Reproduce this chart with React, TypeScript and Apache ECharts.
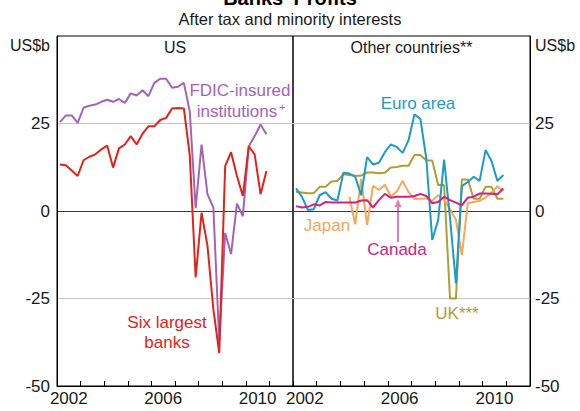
import React, { useEffect, useRef } from "react";
import * as echarts from "echarts";

const years = ["2002", "2003", "2004", "2005", "2006", "2007", "2008", "2009", "2010", "2011"];
const quarterNames = ["Q1", "Q2", "Q3", "Q4"];
const quarters = years.flatMap((y) => quarterNames.map((q) => y + q));
const yTicks = [-50, -25, 0, 25, 50];

const sixLargest = [13.3, 13.1, 11.6, 10.0, 14.5, 15.5, 16.2, 17.6, 18.7, 12.4, 17.9, 19.0, 21.4, 19.0, 22.1, 24.2, 24.2, 26.0, 26.6, 29.3, 29.4, 29.3, 16.0, -19.0, -0.5, -9.9, -28.0, -40.6, 12.8, 16.8, 10.0, 4.3, 18.5, 16.2, 4.8, 11.4];
const fdic = [25.4, 27.3, 27.3, 25.2, 29.5, 30.1, 30.4, 31.2, 31.8, 31.2, 32.0, 30.9, 33.6, 33.0, 34.5, 32.8, 36.6, 37.8, 37.8, 35.2, 35.5, 36.6, 28.5, 0.8, 19.0, 4.8, 1.0, -37.3, -6.3, -12.3, 2.1, -1.5, 18.4, 21.4, 24.7, 21.9];
const euroArea = [6.5, 4.1, 0.3, 0.5, 4.5, 5.4, 3.5, 3.0, 10.9, 10.7, 9.8, 4.5, 15.4, 13.3, 13.8, 16.8, 19.0, 18.3, 16.6, 20.2, 27.6, 26.3, 15.0, -8.3, -2.6, 14.7, -2.0, -20.7, 7.1, 8.3, 9.8, 8.6, 17.4, 14.3, 8.6, 10.3];
const uk = [5.5, 5.3, 5.1, 5.1, 6.9, 6.9, 8.4, 8.6, 10.5, 10.3, 10.1, 10.1, 11.0, 11.0, 10.8, 10.9, 12.4, 12.6, 12.9, 12.9, 16.0, 16.0, 14.4, 14.4, 7.4, 7.4, -25.0, -25.0, 9.0, 9.0, 3.5, 3.5, 6.9, 6.9, 3.5, 3.5];
const japan = [null, null, null, null, null, null, null, null, null, 4.1, -3.8, 9.2, -4.0, 7.2, 6.0, 7.5, 4.2, 5.6, 8.6, 5.4, 3.4, 3.5, 3.6, 2.9, 4.5, 3.3, 0.5, -2.5, -12.6, 2.2, 2.6, 2.9, 3.8, 5.2, 7.1, 5.7];
const canada = [1.4, 1.0, 1.2, 1.9, 1.6, 2.6, 2.4, 2.4, 2.4, 2.4, 2.4, 3.0, 3.1, 1.0, 3.1, 4.9, 3.8, 4.1, 4.1, 4.1, 4.3, 4.9, 4.3, 2.2, 2.6, 4.1, 3.1, 2.4, 1.6, 3.8, 4.1, 5.0, 5.0, 4.9, 4.8, 6.4];

const FONT = "'Liberation Sans', Arial, sans-serif";
const RED = "#E2231A";
const PURPLE = "#A463B8";
const BLUE = "#1A9CC6";
const OLIVE = "#B29D34";
const ORANGE = "#F8A657";
const MAGENTA = "#D4207F";
const PINK = "#E77BB5";

function txt(text: string, x: number, y: number, color: string, size = 17, align = "center", weight = "normal") {
  return {
    type: "text",
    x,
    y,
    silent: true,
    style: { text, fill: color, fontSize: size, fontFamily: FONT, fontWeight: weight, align, verticalAlign: "middle" },
  };
}

export default function App() {
  const ref = useRef<HTMLDivElement>(null);
  useEffect(() => {
    if (!ref.current) return;
    const chart = echarts.init(ref.current, null, { renderer: "svg" });
    const gridTop = 36;
    const gridBottom = 25;
    const makeXAxes = (gi: number) => [
      {
        type: "category",
        gridIndex: gi,
        data: quarters,
        boundaryGap: true,
        position: "bottom",
        axisLine: { onZero: false, lineStyle: { color: "#000", width: 1 } },
        axisTick: { show: true, inside: true, interval: 3, length: 5, lineStyle: { color: "#000" } },
        axisLabel: { show: false },
        splitLine: { show: false },
      },
      {
        type: "category",
        gridIndex: gi,
        data: years,
        boundaryGap: true,
        position: "bottom",
        axisLine: { show: false, onZero: false },
        axisTick: { show: false },
        axisLabel: { show: true, interval: 3, margin: 4, color: "#1a1a1a", fontSize: 17, fontFamily: FONT },
        splitLine: { show: false },
      },
    ];
    const makeYAxis = (gi: number, pos: string) => ({
      type: "value",
      gridIndex: gi,
      position: pos,
      min: yTicks[0],
      max: yTicks[yTicks.length - 1],
      interval: 25,
      axisLine: { show: true, onZero: false, lineStyle: { color: "#000" } },
      axisTick: { show: false },
      axisLabel: {
        show: pos === "left" ? gi === 0 : gi === 1,
        margin: pos === "left" ? 7 : 5,
        color: "#1a1a1a",
        fontSize: 17,
        fontFamily: FONT,
        formatter: (v: number) => (v === yTicks[yTicks.length - 1] ? "" : String(v)),
      },
      splitLine: {
        show: true,
        lineStyle: { color: ["rgba(0,0,0,0)", "#C4C4C4", "#3a3a3a", "#C4C4C4", "rgba(0,0,0,0)"], width: 1 },
      },
    });
    const line = (name: string, data: (number | null)[], color: string, xi: number, yi: number, z = 2) => ({
      name,
      type: "line",
      xAxisIndex: xi,
      yAxisIndex: yi,
      data,
      showSymbol: false,
      symbol: "none",
      connectNulls: false,
      lineStyle: { color, width: 2 },
      itemStyle: { color },
      z,
    });
    const option: any = {
      animation: false,
      backgroundColor: "#fff",
      grid: [
        { left: 57, right: 287, top: gridTop, bottom: gridBottom, show: true, borderColor: "#000", borderWidth: 1, backgroundColor: "transparent" },
        { left: 293, right: 50, top: gridTop, bottom: gridBottom, show: true, borderColor: "#000", borderWidth: 1, backgroundColor: "transparent" },
      ],
      xAxis: [...makeXAxes(0), ...makeXAxes(1)],
      yAxis: [makeYAxis(0, "left"), makeYAxis(1, "right")],
      series: [
        line("Six largest banks", sixLargest, RED, 0, 0, 3),
        line("FDIC-insured institutions", fdic, PURPLE, 0, 0, 2),
        line("UK", uk, OLIVE, 2, 1, 2),
        line("Japan", japan, ORANGE, 2, 1, 3),
        line("Euro area", euroArea, BLUE, 2, 1, 4),
        line("Canada", canada, MAGENTA, 2, 1, 5),
      ],
      graphic: [
        txt("Banks' Profits", 290, -2, "#000", 20, "center", "bold"),
        txt("After tax and minority interests", 290, 19, "#1a1a1a", 16.5),
        txt("US", 175, 47, "#1a1a1a", 16),
        txt("Other countries**", 411.5, 47, "#1a1a1a", 16),
        txt("US$b", 50, 45, "#1a1a1a", 16, "right"),
        txt("US$b", 535, 45, "#1a1a1a", 16, "left"),
        txt("FDIC-insured", 240, 90, PURPLE),
        txt("institutions", 237, 111, PURPLE),
        txt("+", 279, 107, PURPLE, 11, "left"),
        txt("Six largest", 167, 322, RED),
        txt("banks", 167, 342, RED),
        txt("Euro area", 418, 103, BLUE),
        txt("Japan", 327, 225, ORANGE),
        txt("Canada", 397, 249, MAGENTA),
        txt("UK***", 457, 313, OLIVE),
        {
          type: "line",
          silent: true,
          shape: { x1: 398, y1: 242, x2: 398, y2: 205 },
          style: { stroke: PINK, lineWidth: 2 },
        },
        {
          type: "polygon",
          silent: true,
          shape: { points: [[398, 199], [394.5, 207], [401.5, 207]] },
          style: { fill: PINK },
        },
      ],
    };
    chart.setOption(option);
    return () => chart.dispose();
  }, []);
  return <div ref={ref} style={{ position: "absolute", left: 0, top: 0, width: 580, height: 411 }} />;
}
